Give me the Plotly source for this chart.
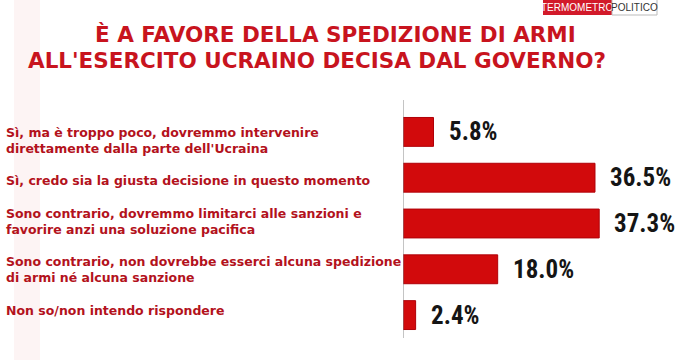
import plotly.graph_objects as go

# ---- data ----
categories = [
    "Sì, ma è troppo poco, dovremmo intervenire<br>direttamente dalla parte dell'Ucraina",
    "Sì, credo sia la giusta decisione in questo momento",
    "Sono contrario, dovremmo limitarci alle sanzioni e<br>favorire anzi una soluzione pacifica",
    "Sono contrario, non dovrebbe esserci alcuna spedizione<br>di armi né alcuna sanzione",
    "Non so/non intendo rispondere",
]
values = [5.8, 36.5, 37.3, 18.0, 2.4]
value_labels = ["5.8%", "36.5%", "37.3%", "18.0%", "2.4%"]
title_lines = ["È A FAVORE DELLA SPEDIZIONE DI ARMI", "ALL'ESERCITO UCRAINO DECISA DAL GOVERNO?"]
label_shifts = [-9, -3, 2, 0, 5]

W, H = 680, 360
L, R, T, B = 403, 3, 109, 22
pw, ph = W - L - R, H - T - B


def px(x):
    return (x - L) / pw


def py(y):
    return (H - B - y) / ph


ypos = list(range(len(categories)))

fig = go.Figure()
fig.add_trace(go.Bar(
    x=values, y=ypos, orientation="h", width=0.63,
    marker=dict(color="#d20a0c", line=dict(color="#b00008", width=1)),
    hoverinfo="skip",
))

ann = []
for i, (c, v, t) in enumerate(zip(categories, values, value_labels)):
    ann.append(dict(x=v, y=i, xref="x", yref="y", text=t, showarrow=False,
                    xanchor="left", yanchor="middle", xshift=13,
                    font=dict(family="Liberation Sans Narrow, Arial Narrow, Roboto Condensed, sans-serif",
                              size=25, color="#151515", weight="bold")))
    ann.append(dict(x=px(4), y=i, xref="paper", yref="y", text=c, showarrow=False,
                    xanchor="left", yanchor="middle", align="left", yshift=label_shifts[i],
                    font=dict(family="DejaVu Sans, sans-serif", size=12.5, color="#b3121c", weight="bold")))

title_x = [335, 317]
title_y = [35, 60]
for tl, tx, ty in zip(title_lines, title_x, title_y):
    ann.append(dict(x=px(tx), y=py(ty), xref="paper", yref="paper", text=tl, showarrow=False,
                    xanchor="center", yanchor="middle",
                    font=dict(family="DejaVu Sans, sans-serif", size=21.5, color="#c8141e", weight="bold")))

# logo
ann.append(dict(x=px(577), y=py(7.5), xref="paper", yref="paper", text="TERMOMETRO", showarrow=False,
                xanchor="center", yanchor="middle", borderpad=0,
                font=dict(family="Liberation Sans Narrow, sans-serif", size=10, color="white")))
ann.append(dict(x=px(634), y=py(7.5), xref="paper", yref="paper", text="POLITICO", showarrow=False,
                xanchor="center", yanchor="middle", borderpad=0,
                font=dict(family="Liberation Sans Narrow, sans-serif", size=10, color="#333333")))

shapes = [
    dict(type="rect", xref="paper", yref="paper", x0=px(14), x1=px(40), y0=py(360), y1=py(0),
         fillcolor="#fdf4f4", line=dict(width=0), layer="below"),
    dict(type="line", xref="x", yref="paper", x0=0, x1=0, y0=py(338), y1=py(100),
         line=dict(color="#8a8a8a", width=1)),
    dict(type="rect", xref="paper", yref="paper", x0=px(543), x1=px(612), y0=py(15), y1=py(-2),
         fillcolor="#d21a2a", line=dict(width=0)),
    dict(type="rect", xref="paper", yref="paper", x0=px(612), x1=px(657), y0=py(15), y1=py(-2),
         fillcolor="white", line=dict(color="#bbbbbb", width=1)),
]

fig.update_layout(
    width=W, height=H,
    margin=dict(l=L, r=R, t=T, b=B, pad=0),
    paper_bgcolor="white", plot_bgcolor="white",
    showlegend=False,
    xaxis=dict(range=[0, pw / 5.26], visible=False, fixedrange=True),
    yaxis=dict(range=[len(categories) - 0.5, -0.5], visible=False, fixedrange=True),
    annotations=ann, shapes=shapes,
)

fig.write_html("out.html", config={"displayModeBar": False},
               post_script="document.body.style.margin='0';document.body.style.overflow='hidden';")
